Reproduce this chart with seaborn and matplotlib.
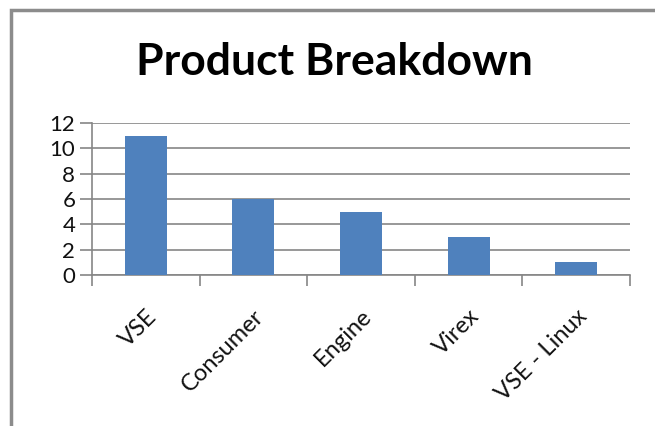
import matplotlib
matplotlib.use("Agg")
import matplotlib.pyplot as plt
import seaborn as sns
import pandas as pd
from matplotlib.patches import Rectangle

categories = ["VSE", "Consumer", "Engine", "Virex", "VSE - Linux"]
values = [11, 6, 5, 3, 1]
yticks = [0, 2, 4, 6, 8, 10, 12]

df = pd.DataFrame({"Product": categories, "Count": values})

sns.set_theme(style="white")
plt.rcParams["font.family"] = ["Lato", "DejaVu Sans"]

fig = plt.figure(figsize=(6.55, 4.26), dpi=100)
ax = fig.add_axes([92/655, 1 - 275/426, (630 - 92)/655, (275 - 123)/426])

sns.barplot(data=df, x="Product", y="Count", color="#4F81BD", width=0.39,
            saturation=1, linewidth=0, ax=ax, zorder=3)

ax.set_ylim(0, 12)
ax.set_xlim(-0.5, len(categories) - 0.5)
ax.set_yticks(yticks)
ax.set_yticklabels([str(t) for t in yticks], fontsize=16, color="#111111")
ax.yaxis.grid(True, color="#868686", linewidth=1.2, zorder=0)
ax.set_axisbelow(True)
ax.set_xlabel("")
ax.set_ylabel("")

for s in ["top", "right"]:
    ax.spines[s].set_visible(False)
for s in ["left", "bottom"]:
    ax.spines[s].set_color("#868686")
    ax.spines[s].set_linewidth(1.2)

ax.tick_params(axis="y", left=True, length=9, width=1.2, color="#868686", pad=3)
# category boundary ticks on x
ax.set_xticks([i - 0.5 for i in range(len(categories) + 1)], minor=True)
ax.tick_params(axis="x", which="minor", bottom=True, length=8, width=1.2,
               color="#868686", direction="out")
ax.set_xticks(range(len(categories)))
ax.tick_params(axis="x", which="major", bottom=False, length=0, pad=22)
ax.set_xticklabels(categories, rotation=45, ha="right", rotation_mode="anchor",
                   fontsize=17, color="#111111")

fig.text(334/655, 1 - 62/426, "Product Breakdown", ha="center", va="center",
         fontsize=32, fontweight="bold", color="black")

fig.patches.append(Rectangle((11/655, -0.1), 1.2, 1 - 10/426 + 0.1,
                             transform=fig.transFigure, fill=False,
                             edgecolor="#8c8c8c", linewidth=2.5))

fig.savefig("out.png", dpi=100)
